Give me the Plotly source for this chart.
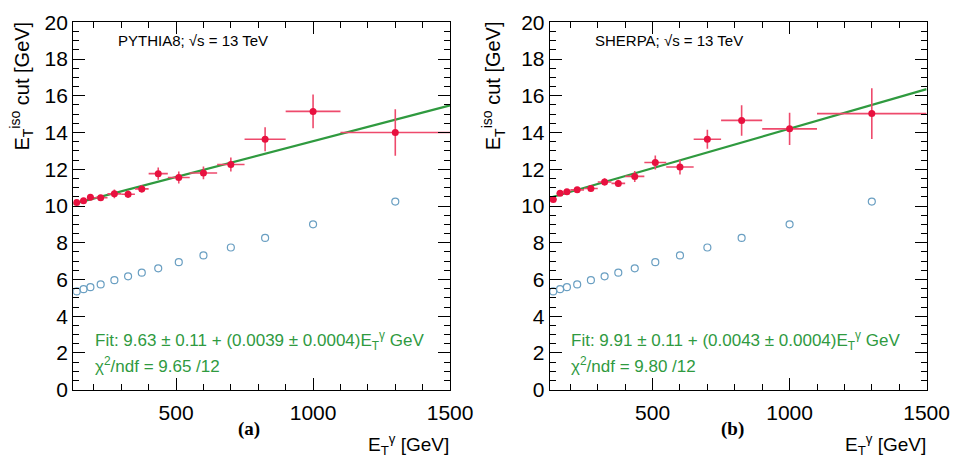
import plotly.graph_objects as go

# Bin edges in photon E_T [GeV]
bin_edges = [125, 150, 175, 200, 250, 300, 350, 400, 470, 550, 650, 750, 900, 1100, 1500]
bin_centers = [137.5, 162.5, 187.5, 225, 275, 325, 375, 435, 510, 600, 700, 825, 1000, 1300]

# PYTHIA8 (a)
pythia_y = [10.19, 10.29, 10.47, 10.45, 10.66, 10.64, 10.93, 11.76, 11.55, 11.80, 12.26, 13.63, 15.15, 14.0]
pythia_err = [0.10, 0.10, 0.10, 0.15, 0.24, 0.20, 0.20, 0.33, 0.33, 0.35, 0.38, 0.65, 0.92, 1.26]
pythia_open = [5.35, 5.47, 5.58, 5.73, 5.96, 6.17, 6.37, 6.61, 6.94, 7.31, 7.74, 8.26, 9.0, 10.24]
pythia_fit = (9.63, 0.0039)

# SHERPA (b)
sherpa_y = [10.36, 10.69, 10.78, 10.88, 10.95, 11.31, 11.23, 11.61, 12.37, 12.12, 13.63, 14.66, 14.2, 15.03]
sherpa_err = [0.10, 0.10, 0.10, 0.15, 0.15, 0.20, 0.20, 0.30, 0.38, 0.40, 0.52, 0.83, 0.88, 1.38]
sherpa_open = [5.35, 5.47, 5.58, 5.73, 5.96, 6.17, 6.37, 6.61, 6.94, 7.31, 7.74, 8.26, 9.0, 10.24]
sherpa_fit = (9.91, 0.0043)

x_ticks = [500, 1000, 1500]
y_ticks = [0, 2, 4, 6, 8, 10, 12, 14, 16, 18, 20]

RED = "#e8113f"
RED_ERR = "#ee4a6c"
GREEN = "#2f9a3f"
BLUE = "#6a9fc2"

half_w = [(bin_edges[i + 1] - bin_edges[i]) / 2 for i in range(len(bin_centers))]

fig = go.Figure()

panels = [
    ("x", "y", pythia_y, pythia_err, pythia_open, pythia_fit, "PYTHIA8; \u221As = 13 TeV",
     "Fit: 9.63 \u00b1 0.11 + (0.0039 \u00b1 0.0004)E<sub>T</sub><sup>\u03b3</sup> GeV", "\u03c7<sup>2</sup>/ndf = 9.65 /12", "(a)"),
    ("x2", "y2", sherpa_y, sherpa_err, sherpa_open, sherpa_fit, "SHERPA; \u221As = 13 TeV",
     "Fit: 9.91 \u00b1 0.11 + (0.0043 \u00b1 0.0004)E<sub>T</sub><sup>\u03b3</sup> GeV", "\u03c7<sup>2</sup>/ndf = 9.80 /12", "(b)"),
]

for xa, ya, yv, ye, yo, fit, label, fit_txt, chi_txt, tag in panels:
    fig.add_trace(go.Scatter(
        x=bin_centers, y=yo, mode="markers", xaxis=xa, yaxis=ya,
        marker=dict(symbol="circle-open", size=7, color=BLUE, line=dict(width=1.2)),
        showlegend=False, hoverinfo="skip"))
    fit_x = [bin_edges[0], bin_edges[-1]]
    fig.add_trace(go.Scatter(
        x=fit_x, y=[fit[0] + fit[1] * v for v in fit_x], mode="lines", xaxis=xa, yaxis=ya,
        line=dict(color=GREEN, width=2.2), showlegend=False, hoverinfo="skip"))
    fig.add_trace(go.Scatter(
        x=bin_centers, y=yv, mode="markers", xaxis=xa, yaxis=ya,
        marker=dict(symbol="circle", size=7, color=RED),
        error_x=dict(type="data", array=half_w, color=RED_ERR, thickness=1.6, width=0),
        error_y=dict(type="data", array=ye, color=RED_ERR, thickness=1.6, width=0),
        showlegend=False, hoverinfo="skip", cliponaxis=True))

axis_common = dict(
    showgrid=False, zeroline=False, showline=True, linecolor="black", linewidth=1.2,
    mirror="allticks", ticks="inside", ticklen=12, tickwidth=1, tickcolor="black",
    ticklabeloverflow="allow",
    tickfont=dict(family="Liberation Sans, Arial, sans-serif", size=21, color="black"),
)

y_dom = [0.155, 0.977]
fig.update_layout(
    width=977, height=470, margin=dict(l=0, r=0, t=0, b=0),
    paper_bgcolor="white", plot_bgcolor="white",
    xaxis=dict(domain=[0.0768, 0.4718], range=[125, 1500], tickvals=x_ticks, anchor="y", ticklabelstandoff=4,
               minor=dict(dtick=100, tick0=0, ticks="inside", ticklen=6, tickcolor="black"), **axis_common),
    yaxis=dict(domain=y_dom, range=[0, 20], tickvals=y_ticks, anchor="x",
               minor=dict(dtick=0.5, tick0=0, ticks="inside", ticklen=6, tickcolor="black"), **axis_common),
    xaxis2=dict(domain=[0.5763, 0.9713], range=[125, 1500], tickvals=x_ticks, anchor="y2", ticklabelstandoff=4,
                minor=dict(dtick=100, tick0=0, ticks="inside", ticklen=6, tickcolor="black"), **axis_common),
    yaxis2=dict(domain=y_dom, range=[0, 20], tickvals=y_ticks, anchor="x2",
                minor=dict(dtick=0.5, tick0=0, ticks="inside", ticklen=6, tickcolor="black"), **axis_common),
)

font = "Liberation Sans, Arial, sans-serif"
annots = []
for (xa, ya, *_rest), xoff in zip(panels, [0, 1]):
    label, fit_txt, chi_txt, tag = _rest[4], _rest[5], _rest[6], _rest[7]
    xd = "x domain" if xa == "x" else "x2 domain"
    yd = "y domain" if ya == "y" else "y2 domain"
    annots.append(dict(text=label, xref=xd, yref=yd, x=(119 - 75) / 386 if xoff == 0 else (607 - 563) / 386,
                       y=0.95, xanchor="left", yanchor="middle", showarrow=False,
                       font=dict(family=font, size=15, color="black")))
    annots.append(dict(text=fit_txt, xref=xd, yref=yd, x=(95 - 75) / 386 if xoff == 0 else (583 - 563) / 386,
                       y=(397 - 345) / 386, xanchor="left", yanchor="middle", showarrow=False,
                       font=dict(family=font, size=17, color=GREEN)))
    annots.append(dict(text=chi_txt, xref=xd, yref=yd, x=(95 - 75) / 386 if xoff == 0 else (583 - 563) / 386,
                       y=(397 - 371) / 386, xanchor="left", yanchor="middle", showarrow=False,
                       font=dict(family=font, size=17, color=GREEN)))
    annots.append(dict(text="<b>" + tag + "</b>", xref="paper", yref="paper",
                       x=(255 if xoff == 0 else 750) / 977, y=1 - 438 / 470, xanchor="center", yanchor="middle",
                       showarrow=False, font=dict(family="Liberation Serif, Times New Roman, serif", size=19, color="black")))
    annots.append(dict(text="E<sub>T</sub><sup>\u03b3</sup> [GeV]", xref="paper", yref="paper",
                       x=(462 if xoff == 0 else 950) / 977, y=1 - 455 / 470, xanchor="right", yanchor="middle",
                       showarrow=False, font=dict(family=font, size=19, color="black")))
    annots.append(dict(text="E<sub>T</sub><sup>iso</sup> cut [GeV]", xref="paper", yref="paper",
                       x=(22 if xoff == 0 else 505) / 977, y=1 - 8 / 470, xanchor="center", yanchor="top",
                       textangle=-90, showarrow=False, font=dict(family=font, size=20, color="black")))

fig.update_layout(annotations=annots)
fig.write_html("out.html")
